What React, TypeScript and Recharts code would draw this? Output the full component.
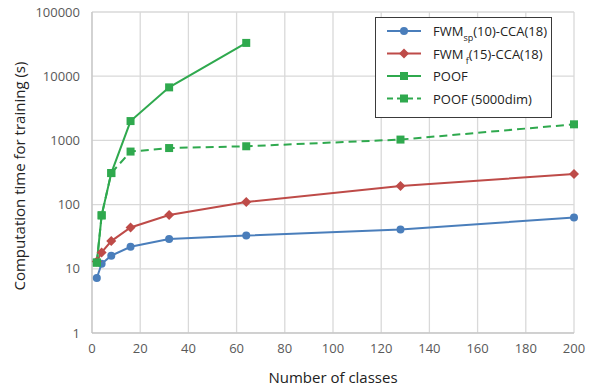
import { CartesianGrid, Line, LineChart, XAxis, YAxis } from "recharts";

const classesA = [2, 4, 8, 16, 32, 64, 128, 200];
const fwmSpValues = [7.2, 12, 16, 22, 29, 33, 41, 63];
const fwmFValues = [13, 18, 27, 44, 69, 110, 195, 300];
const classesPoof = [2, 4, 8, 16, 32, 64];
const poofValues = [12.5, 68, 310, 2000, 6700, 33000];
const poof5000Values = [12.5, 68, 310, 670, 760, 810, 1030, 1780];
const xTicks = [0, 20, 40, 60, 80, 100, 120, 140, 160, 180, 200];
const yTicks = [1, 10, 100, 1000, 10000, 100000];

const fwmSp = classesA.map((x, i) => ({ x, y: fwmSpValues[i] }));
const fwmF = classesA.map((x, i) => ({ x, y: fwmFValues[i] }));
const poof = classesPoof.map((x, i) => ({ x, y: poofValues[i] }));
const poof5000 = classesA.map((x, i) => ({ x, y: poof5000Values[i] }));

const BLUE = "#4a7ebb";
const RED = "#be4b48";
const GREEN = "#2fa94e";
const FONT = "'Open Sans', 'Noto Sans', sans-serif";

const Diamond = (props: any) => {
  const { cx, cy, fill } = props;
  if (cx == null || cy == null) return null;
  const r = 5;
  return <path d={`M${cx},${cy - r}L${cx + r},${cy}L${cx},${cy + r}L${cx - r},${cy}Z`} fill={fill} />;
};

const Square = (props: any) => {
  const { cx, cy, fill } = props;
  if (cx == null || cy == null) return null;
  return <rect x={cx - 4} y={cy - 4} width={8} height={8} fill={fill} />;
};

const legendItems = [
  { color: BLUE, marker: "circle", dashed: false, label: <>FWM<tspan fontSize={9} dy={5}>sp</tspan><tspan dy={-5}>(10)-CCA(18)</tspan></> },
  { color: RED, marker: "diamond", dashed: false, label: <>FWM<tspan fontSize={9} dy={5}> f</tspan><tspan dy={-5}>(15)-CCA(18)</tspan></> },
  { color: GREEN, marker: "square", dashed: false, label: <>POOF</> },
  { color: GREEN, marker: "square", dashed: true, label: <>POOF (5000dim)</> },
];

const LegendBox = () => (
  <svg width={178} height={102} style={{ display: "block" }}>
    <rect x={0.5} y={0.5} width={176} height={100} fill="#fff" stroke="#3a3a3a" />
    {legendItems.map((it, i) => {
      const y = 14 + i * 22.5;
      return (
        <g key={i}>
          <line x1={12} x2={46} y1={y} y2={y} stroke={it.color} strokeWidth={2} strokeDasharray={it.dashed ? "6 4" : undefined} />
          {it.marker === "circle" && <circle cx={29} cy={y} r={4} fill={it.color} />}
          {it.marker === "diamond" && <Diamond cx={29} cy={y} fill={it.color} />}
          {it.marker === "square" && <Square cx={29} cy={y} fill={it.color} />}
          <text x={58} y={y + 5} fontSize={13} fill="#222" fontFamily={FONT}>
            {it.label}
          </text>
        </g>
      );
    })}
  </svg>
);

export default function App() {
  return (
    <div style={{ position: "absolute", left: 0, top: 0, width: 590, height: 387, background: "#fff" }}>
      <LineChart width={590} height={387} margin={{ top: 12, right: 16, left: 0, bottom: 0 }}>
        <CartesianGrid stroke="#d9d9d9" strokeWidth={1.3} />
        <XAxis
          dataKey="x"
          type="number"
          domain={[0, 200]}
          ticks={xTicks}
          tickLine={false}
          axisLine={{ stroke: "#bfbfbf" }}
          tick={{ fill: "#595959", fontSize: 13, fontFamily: FONT }}
          tickMargin={5}
          height={54}
          allowDuplicatedCategory={false}
          label={{ value: "Number of classes", position: "insideBottom", offset: 4, fill: "#222", fontSize: 15, fontFamily: FONT }}
        />
        <YAxis
          dataKey="y"
          type="number"
          scale="log"
          domain={[1, 100000]}
          ticks={yTicks}
          tickLine={false}
          axisLine={{ stroke: "#bfbfbf" }}
          tick={{ fill: "#595959", fontSize: 13, fontFamily: FONT }}
          width={92}
          tickMargin={6}
          label={{ value: "Computation time for training (s)", angle: -90, position: "insideLeft", offset: 20, dy: 118, fill: "#222", fontSize: 15, fontFamily: FONT }}
        />
        <Line data={fwmSp} dataKey="y" stroke={BLUE} strokeWidth={2} dot={{ r: 4, fill: BLUE, stroke: BLUE, strokeWidth: 0 }} isAnimationActive={false} />
        <Line data={fwmF} dataKey="y" stroke={RED} strokeWidth={2} dot={<Diamond fill={RED} />} isAnimationActive={false} />
        <Line data={poof5000} dataKey="y" stroke={GREEN} strokeWidth={2} strokeDasharray="8 5" dot={<Square fill={GREEN} />} isAnimationActive={false} />
        <Line data={poof} dataKey="y" stroke={GREEN} strokeWidth={2} dot={<Square fill={GREEN} />} isAnimationActive={false} />
      </LineChart>
      <div style={{ position: "absolute", left: 375, top: 17 }}>
        <LegendBox />
      </div>
    </div>
  );
}
